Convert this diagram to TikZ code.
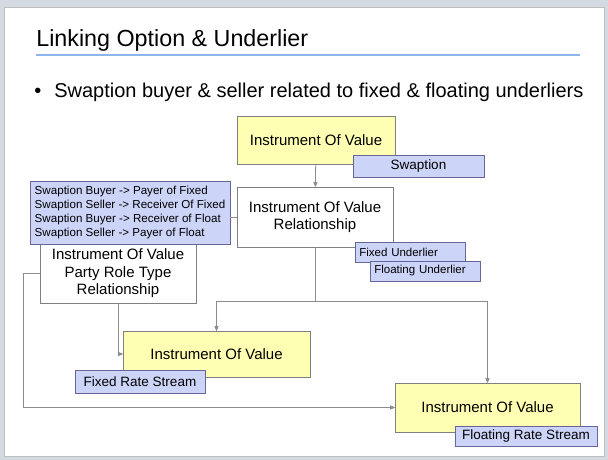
\documentclass[tikz,border=0pt]{standalone}
\usepackage{fontspec}
\setmainfont{Liberation Sans}
\usetikzlibrary{arrows,shadows}
\definecolor{ivyellow}{HTML}{FFFFB3}
\definecolor{tagblue}{HTML}{CCD4F8}
\definecolor{framegray}{HTML}{D3DAE2}
\definecolor{titleline}{HTML}{8EB4EE}
\definecolor{linkgray}{HTML}{8C8C8C}

\begin{document}
\begin{tikzpicture}[x=1pt,y=-1pt,>=stealth',semithick]
\tikzstyle{box}=[draw=gray,text=black,align=center,inner sep=2pt,font=\fontsize{15}{17.5}\selectfont,drop shadow={shadow xshift=1pt,shadow yshift=-1pt,opacity=.3}]
\tikzstyle{ivalue}=[box,fill=ivyellow]
\tikzstyle{ivrel}=[box,fill=white]
\tikzstyle{tag}=[draw=gray!80!blue,fill=tagblue,text=black,inner sep=2pt,font=\fontsize{13.5}{15}\selectfont,drop shadow={shadow xshift=1pt,shadow yshift=-1pt,opacity=.3}]
\tikzstyle{link}=[draw=linkgray,thick]
\useasboundingbox (0,0) rectangle (608,460);
\fill[framegray] (0,0) rectangle (608,460);
\filldraw[fill=white,draw=gray!50] (4,7) rectangle (604,456);
\node[anchor=base west,inner sep=0pt,font=\fontsize{23.3}{27}\selectfont] (title) at (36,47) {Linking Option \& Underlier};
\draw[titleline,line width=1.5pt] (36,55) -- (580,55);
\node[anchor=base west,inner sep=0pt,font=\fontsize{20}{24}\selectfont] (bullet) at (34,97) {•\hspace{13pt}Swaption buyer \& seller related to fixed \& floating underliers};
\node[ivalue,minimum width=158,minimum height=48] (swapIV) at (316,140) {Instrument Of Value};
\node[tag,minimum width=131,minimum height=22] (swapTag) at (418.5,166) {Swaption};
\node[ivrel,minimum width=156,minimum height=60] (ivRel) at (315,217) {Instrument Of Value\\Relationship};
\node[tag,font=\fontsize{11.5}{13}\selectfont,anchor=west,minimum width=110,minimum height=20,text width=102] (fixU) at (355,252) {Fixed Underlier};
\node[tag,font=\fontsize{11.5}{13}\selectfont,anchor=west,minimum width=110,minimum height=20,text width=102] (floatU) at (370,271) {Floating Underlier};
\node[ivrel,minimum width=156,minimum height=59] (roleRel) at (118,273.5) {Instrument Of Value\\Party Role Type\\Relationship};
\node[tag,font=\fontsize{11.6}{13.7}\selectfont,align=left,minimum width=200,minimum height=63] (roles) at (130,212.5) {Swaption Buyer -> Payer of Fixed\\Swaption Seller -> Receiver Of Fixed\\Swaption Buyer -> Receiver of Float\\Swaption Seller -> Payer of Float};
\node[ivalue,minimum width=187,minimum height=46] (fixIV) at (216.5,354) {Instrument Of Value};
\node[tag,minimum width=130,minimum height=23] (fixTag) at (140,381.5) {Fixed Rate Stream};
\node[ivalue,minimum width=185,minimum height=49] (floatIV) at (487.5,407.5) {Instrument Of Value};
\node[tag,minimum width=142,minimum height=20] (floatTag) at (526,436) {Floating Rate Stream};
\coordinate (split) at (315,301);
\draw[link,->] (swapIV) -- (ivRel);
\draw[link] (ivRel.west) -- (ivRel.west -| roles.east);
\draw[link] (ivRel.south) -- (split);
\draw[link,->] (split) -| (fixIV.north);
\draw[link,->] (split) -| (floatIV.north);
\draw[link,->] (roleRel.south) |- (fixIV.west);
\draw[link,->] (roleRel.west) -- ++(-16,0) |- (floatIV.west);
\end{tikzpicture}
\end{document}
